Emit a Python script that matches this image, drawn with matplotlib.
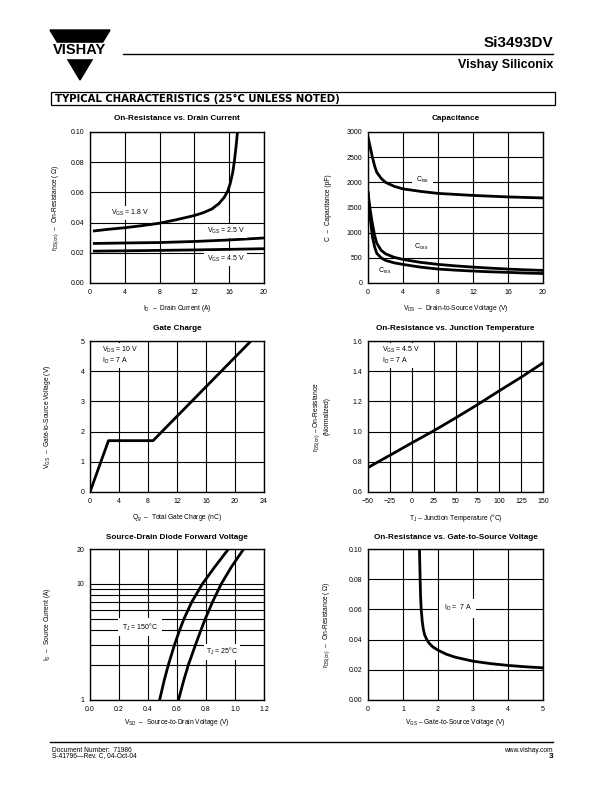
import matplotlib
matplotlib.use("Agg")
import matplotlib.pyplot as plt
from matplotlib import font_manager
from matplotlib.patches import Polygon, Rectangle
from matplotlib.ticker import FixedLocator, NullFormatter

# ---------------- data ----------------
# Panel 1: On-Resistance vs Drain Current
id_18 = [0.5, 2, 4, 6, 8, 10, 12, 13, 14, 14.8, 15.4, 15.8, 16.1, 16.4, 16.6, 16.8, 16.95]
rds_18 = [0.0345, 0.0355, 0.0366, 0.0380, 0.0396, 0.0420, 0.0447, 0.0465, 0.0490, 0.0525, 0.0565, 0.0605, 0.0655, 0.0730, 0.0810, 0.0910, 0.1000]
id_25 = [0.5, 4, 8, 12, 16, 20]
rds_25 = [0.0262, 0.0265, 0.0268, 0.0275, 0.0285, 0.0298]
id_45 = [0.5, 4, 8, 12, 16, 20]
rds_45 = [0.0211, 0.0213, 0.0216, 0.0219, 0.0223, 0.0227]

# Panel 2: Capacitance
vds_ciss = [0, 0.25, 0.5, 0.75, 1, 1.5, 2, 3, 4, 6, 8, 10, 12, 14, 16, 18, 20]
ciss = [2900, 2700, 2500, 2330, 2200, 2080, 2000, 1920, 1870, 1820, 1780, 1760, 1740, 1725, 1710, 1700, 1690]
vds_c = [0, 0.25, 0.5, 0.75, 1, 1.5, 2, 3, 4, 6, 8, 10, 12, 14, 16, 18, 20]
coss = [1800, 1450, 1180, 950, 790, 650, 580, 510, 468, 410, 370, 340, 316, 295, 277, 262, 250]
crss = [1800, 1300, 920, 720, 590, 500, 450, 400, 369, 315, 277, 255, 237, 222, 211, 198, 188]

# Panel 3: Gate Charge
qg = [0, 2.55, 8.7, 22.2]
vgs_q = [0, 1.7, 1.7, 5.0]

# Panel 4: On-Resistance vs Junction Temperature
tj = [-50, -25, 0, 25, 50, 75, 100, 125, 150]
rds_norm = [0.762, 0.843, 0.925, 1.005, 1.09, 1.178, 1.27, 1.36, 1.455]

# Panel 5: Source-Drain Diode Forward Voltage
is_150 = [1, 1.5, 2, 3, 4, 5, 7, 10, 14, 20]
vsd_150 = [0.48, 0.513, 0.540, 0.583, 0.618, 0.648, 0.702, 0.775, 0.86, 0.955]
is_25 = [1, 1.5, 2, 3, 4, 5, 7, 10, 14, 20]
vsd_25 = [0.61, 0.648, 0.678, 0.728, 0.765, 0.795, 0.845, 0.905, 0.975, 1.06]

# Panel 6: On-Resistance vs Gate-to-Source Voltage
vgs6 = [1.47, 1.48, 1.49, 1.50, 1.52, 1.55, 1.58, 1.62, 1.68, 1.75, 1.85, 2.0, 2.25, 2.5, 3.0, 3.5, 4.0, 4.5, 5.0]
rds6 = [0.100, 0.090, 0.080, 0.070, 0.060, 0.052, 0.047, 0.043, 0.0400, 0.0375, 0.0352, 0.0330, 0.0302, 0.0283, 0.0257, 0.0241, 0.0229, 0.0220, 0.0213]

# ---------------- fonts ----------------
avail = {f.name for f in font_manager.fontManager.ttflist}
base = "Liberation Sans" if "Liberation Sans" in avail else "DejaVu Sans"
narrow = "Liberation Sans Narrow" if "Liberation Sans Narrow" in avail else base
plt.rcParams["font.family"] = [base, "DejaVu Sans"]
plt.rcParams["mathtext.fontset"] = "custom"
plt.rcParams["mathtext.rm"] = base
plt.rcParams["mathtext.it"] = base
plt.rcParams["lines.solid_joinstyle"] = "round"

W, H = 612, 792
fig = plt.figure(figsize=(W / 100, H / 100), dpi=100)

# overlay for header / footer
ov = fig.add_axes([0, 0, 1, 1])
ov.set_xlim(0, W)
ov.set_ylim(H, 0)
ov.set_axis_off()
ov.add_patch(Polygon([(50, 30), (110, 30), (80, 80)], closed=True, color="black"))
ov.add_patch(Rectangle((46, 42.5), 68, 15, color="white"))
ov.text(80, 50.5, "VISHAY", ha="center", va="center", fontsize=10.5, fontweight="bold",
        family=[narrow, base])
ov.plot([123, 553], [53.5, 53.5], color="black", lw=1.0)
ov.text(553, 47, "Si3493DV", ha="right", va="baseline", fontsize=11, fontweight="bold",
        family=[narrow, base])
ov.text(553, 68, "Vishay Siliconix", ha="right", va="baseline", fontsize=9, fontweight="bold",
        family=[narrow, base])
ov.add_patch(Rectangle((51, 92), 504, 13, fill=False, edgecolor="black", lw=0.9))
ov.text(55, 98.8, "TYPICAL CHARACTERISTICS (25°C UNLESS NOTED)", ha="left", va="center",
        fontsize=7.3, fontweight="bold", family=["DejaVu Sans"])
ov.plot([50, 553], [742, 742], color="black", lw=1.0)
ov.text(52, 750, "Document Number:  71986", ha="left", va="center", fontsize=4.8)
ov.text(52, 756, "S-41796—Rev. C, 04-Oct-04", ha="left", va="center", fontsize=4.8)
ov.text(553, 750, "www.vishay.com", ha="right", va="center", fontsize=4.8)
ov.text(553, 757, "3", ha="right", va="center", fontsize=6, fontweight="bold")

# ---------------- axes helpers ----------------
def make_ax(x0, y_top, w=174, h=151):
    ax = fig.add_axes([x0 / W, 1 - (y_top + h) / H, w / W, h / H])
    for s in ax.spines.values():
        s.set_linewidth(1.0)
    ax.grid(True, color="black", lw=0.8)
    ax.set_axisbelow(True)
    ax.tick_params(which="both", length=0, labelsize=5, pad=4)
    return ax

TS = 5.9   # title size
LS = 4.8   # label size
AS = 5.0   # annotation size
CW = 2.0   # curve width
bbox_w = dict(facecolor="white", edgecolor="none", pad=1.5)

def finish(ax, title, xlabel, ylabel, ylx, xly=-0.135, ty=1.09):
    ax.text(0.5, ty, title, transform=ax.transAxes, ha="center", va="center",
            fontsize=TS, fontweight="bold")
    ax.set_xlabel(xlabel, fontsize=LS)
    ax.xaxis.set_label_coords(0.5, xly)
    ax.set_ylabel(ylabel, fontsize=LS)
    ax.yaxis.set_label_coords(ylx, 0.5)

# Panel 1
ax1 = make_ax(90, 132)
ax1.plot(id_18, rds_18, color="black", lw=CW)
ax1.plot(id_25, rds_25, color="black", lw=CW)
ax1.plot(id_45, rds_45, color="black", lw=CW)
ax1.set_xlim(0, 20); ax1.set_ylim(0, 0.10)
ax1.set_xticks([0, 4, 8, 12, 16, 20])
ax1.set_yticks([0, 0.02, 0.04, 0.06, 0.08, 0.10])
ax1.set_yticklabels(["0.00", "0.02", "0.04", "0.06", "0.08", "0.10"])
ax1.text(2.4, 0.0465, r"$\mathregular{V_{GS}}$ = 1.8 V", fontsize=AS, va="center", bbox=bbox_w)
ax1.text(13.4, 0.0345, r"$\mathregular{V_{GS}}$ = 2.5 V", fontsize=AS, va="center", bbox=bbox_w)
ax1.text(13.4, 0.0162, r"$\mathregular{V_{GS}}$ = 4.5 V", fontsize=AS, va="center", bbox=bbox_w)
finish(ax1, "On-Resistance vs. Drain Current", r"$\mathregular{I_D}$  –  Drain Current (A)",
       r"$\mathregular{r_{DS(on)}}$  –  On-Resistance ( Ω)", -0.165)

# Panel 2
ax2 = make_ax(368, 132, w=175)
ax2.plot(vds_ciss, ciss, color="black", lw=CW)
ax2.plot(vds_c, coss, color="black", lw=CW)
ax2.plot(vds_c, crss, color="black", lw=CW)
ax2.set_xlim(0, 20); ax2.set_ylim(0, 3000)
ax2.set_xticks([0, 4, 8, 12, 16, 20])
ax2.set_yticks([0, 500, 1000, 1500, 2000, 2500, 3000])
ax2.text(5.5, 2050, r"$\mathregular{C_{iss}}$", fontsize=AS, va="center", bbox=dict(facecolor="white", edgecolor="none", pad=3))
ax2.text(5.2, 712, r"$\mathregular{C_{oss}}$", fontsize=AS, va="center", bbox=bbox_w)
ax2.text(1.15, 240, r"$\mathregular{C_{rss}}$", fontsize=AS, va="center", bbox=bbox_w)
finish(ax2, "Capacitance", r"$\mathregular{V_{DS}}$  –  Drain-to-Source Voltage (V)",
       "C  –  Capacitance (pF)", -0.205)

# Panel 3
ax3 = make_ax(90, 341)
ax3.plot(qg, vgs_q, color="black", lw=CW)
ax3.set_xlim(0, 24); ax3.set_ylim(0, 5)
ax3.set_xticks([0, 4, 8, 12, 16, 20, 24])
ax3.set_yticks([0, 1, 2, 3, 4, 5])
ax3.text(1.6, 4.52, r"$\mathregular{V_{DS}}$ = 10 V" + "\n" + r"$\mathregular{I_D}$ = 7 A",
         fontsize=AS, va="center", linespacing=1.1, bbox=bbox_w)
finish(ax3, "Gate Charge", r"$\mathregular{Q_g}$  –  Total Gate Charge (nC)",
       r"$\mathregular{V_{GS}}$  –  Gate-to-Source Voltage (V)", -0.215, ty=1.08)

# Panel 4
ax4 = make_ax(368, 341, w=175)
ax4.plot(tj, rds_norm, color="black", lw=CW)
ax4.set_xlim(-50, 150); ax4.set_ylim(0.6, 1.6)
ax4.set_xticks([-50, -25, 0, 25, 50, 75, 100, 125, 150])
ax4.set_xticklabels(["−50", "−25", "0", "25", "50", "75", "100", "125", "150"])
ax4.set_yticks([0.6, 0.8, 1.0, 1.2, 1.4, 1.6])
ax4.set_yticklabels(["0.6", "0.8", "1.0", "1.2", "1.4", "1.6"])
ax4.text(-34, 1.505, r"$\mathregular{V_{GS}}$ = 4.5 V" + "\n" + r"$\mathregular{I_D}$ = 7 A",
         fontsize=AS, va="center", linespacing=1.1, bbox=bbox_w)
finish(ax4, "On-Resistance vs. Junction Temperature", r"$\mathregular{T_J}$ – Junction Temperature (°C)",
       r"$\mathregular{r_{DS(on)}}$ – On-Resistance" + "\n(Normalized)", -0.215, ty=1.08)

# Panel 5
ax5 = make_ax(90, 549)
ax5.set_yscale("log")
ax5.plot(vsd_150, is_150, color="black", lw=CW)
ax5.plot(vsd_25, is_25, color="black", lw=CW)
ax5.set_xlim(0, 1.2); ax5.set_ylim(1, 20)
ax5.set_xticks([0, 0.2, 0.4, 0.6, 0.8, 1.0, 1.2])
ax5.set_xticklabels(["0.0", "0.2", "0.4", "0.6", "0.8", "1.0", "1.2"])
ax5.yaxis.set_major_locator(FixedLocator([1, 10, 20]))
ax5.yaxis.set_minor_locator(FixedLocator([2, 3, 4, 5, 6, 7, 8, 9]))
ax5.yaxis.set_minor_formatter(NullFormatter())
ax5.set_yticklabels(["1", "10", "20"])
ax5.grid(True, which="minor", axis="y", color="black", lw=0.8)
ax5.text(0.22, 4.25, r"$\mathregular{T_J}$ = 150°C", fontsize=AS, va="center",
         bbox=dict(facecolor="white", edgecolor="none", pad=2.5))
ax5.text(0.80, 2.6, r"$\mathregular{T_J}$ = 25°C", fontsize=AS, va="center", bbox=bbox_w)
finish(ax5, "Source-Drain Diode Forward Voltage", r"$\mathregular{V_{SD}}$  –  Source-to-Drain Voltage (V)",
       r"$\mathregular{I_S}$  –  Source Current (A)", -0.215, xly=-0.11, ty=1.075)

# Panel 6
ax6 = make_ax(368, 549, w=175)
ax6.plot(vgs6, rds6, color="black", lw=CW)
ax6.set_xlim(0, 5); ax6.set_ylim(0, 0.10)
ax6.set_xticks([0, 1, 2, 3, 4, 5])
ax6.set_yticks([0, 0.02, 0.04, 0.06, 0.08, 0.10])
ax6.set_yticklabels(["0.00", "0.02", "0.04", "0.06", "0.08", "0.10"])
ax6.text(2.16, 0.0607, r"$\mathregular{I_D}$ =  7 A", fontsize=AS, va="center",
         bbox=dict(facecolor="white", edgecolor="none", pad=3))
finish(ax6, "On-Resistance vs. Gate-to-Source Voltage", r"$\mathregular{V_{GS}}$ – Gate-to-Source Voltage (V)",
       r"$\mathregular{r_{DS(on)}}$  –  On-Resistance ( Ω)", -0.205, xly=-0.11, ty=1.075)

fig.savefig("out.png", dpi=100)
